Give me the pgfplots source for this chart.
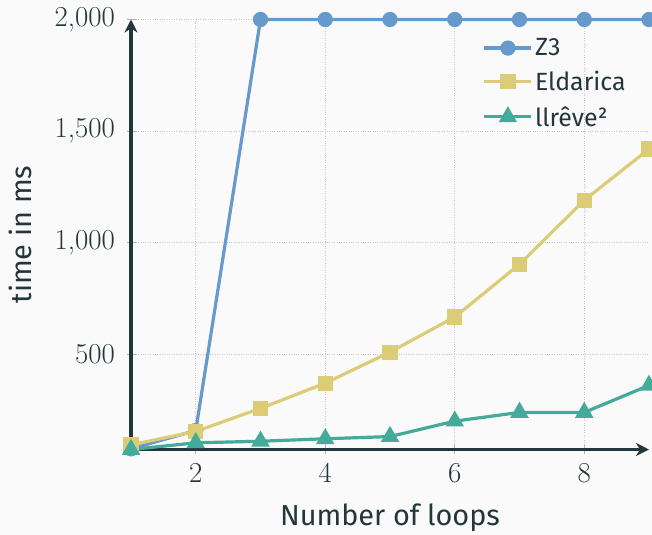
\documentclass[border=0pt]{standalone}
\usepackage{fontspec}
\setmainfont{Fira Sans}
\newfontfamily\lmfont{Latin Modern Roman}
\usepackage{pgfplots}
\pgfplotsset{compat=1.18}
\usetikzlibrary{arrows.meta,backgrounds}
\definecolor{mDark}{HTML}{23373B}
\definecolor{mBg}{HTML}{FAFAFA}
\definecolor{TolDarkBlue}{HTML}{6699CC}
\definecolor{TolLightBrown}{HTML}{DDCC77}
\definecolor{TolLightGreen}{HTML}{44AA99}
\begin{document}
\begin{tikzpicture}
\begin{axis}[name=ax,
  scale only axis, width=518bp, height=430bp,
  xmin=1, xmax=9, ymin=75, ymax=2000,
  clip=false,
  axis lines=left,
  axis line style={mDark, line width=3.2bp, -{Stealth[length=13bp,width=13bp,inset=4bp]}},
  xtick={2,4,6,8}, ytick={500,1000,1500,2000},
  /pgf/number format/assume math mode=true,
  grid=major, major grid style={dotted, gray!45, line width=1bp},
  tick style={gray!60, line width=1bp}, major tick length=9bp, tick align=center,
  tick label style={font=\lmfont\fontsize{29}{34}\selectfont, text=mDark},
  xticklabel style={yshift=-6bp},
  yticklabel style={xshift=-8bp},
  label style={font=\fontsize{29}{34}\selectfont, text=mDark},
  xlabel={Number of loops}, ylabel={time in ms},
  xlabel style={yshift=-14bp},
  ylabel style={yshift=16bp},
  legend style={draw=none, fill=none, at={(0.673,0.965)}, anchor=north west,
    font=\fontsize{25}{30}\selectfont, text=mDark, row sep=10bp},
  legend cell align=left,
  legend image code/.code={\draw[mark repeat=2,mark phase=2,#1] plot coordinates {(0bp,0bp) (23.5bp,0bp) (47bp,0bp)};},
]
\addplot[TolDarkBlue, line width=3.2bp, mark=*, mark size=6bp, mark options={solid}] coordinates {
 (1,78) (2,160) (3,2000) (4,2000) (5,2000) (6,2000) (7,2000) (8,2000) (9,2000)};
\addlegendentry{Z3}
\addplot[TolLightBrown, line width=3.2bp, mark=square*, mark size=6bp, mark options={solid}] coordinates {
 (1,96) (2,156) (3,259) (4,372) (5,511) (6,668) (7,904) (8,1191) (9,1420)};
\addlegendentry{Eldarica}
\addplot[TolLightGreen, line width=3.2bp, mark=triangle*, mark size=7.5bp, mark options={solid}] coordinates {
 (1,75) (2,105) (3,112) (4,123) (5,133) (6,202) (7,241) (8,241) (9,362)};
\addlegendentry{llrêve²}
\end{axis}
\pgfresetboundingbox
\coordinate (bl) at ([shift={(-131bp,-85bp)}]ax.south west);
\coordinate (tr) at ([shift={(3bp,19.5bp)}]ax.north east);
\path (bl) rectangle (tr);
\begin{scope}[on background layer]
\fill[mBg] (bl) rectangle (tr);
\end{scope}
\end{tikzpicture}
\end{document}
